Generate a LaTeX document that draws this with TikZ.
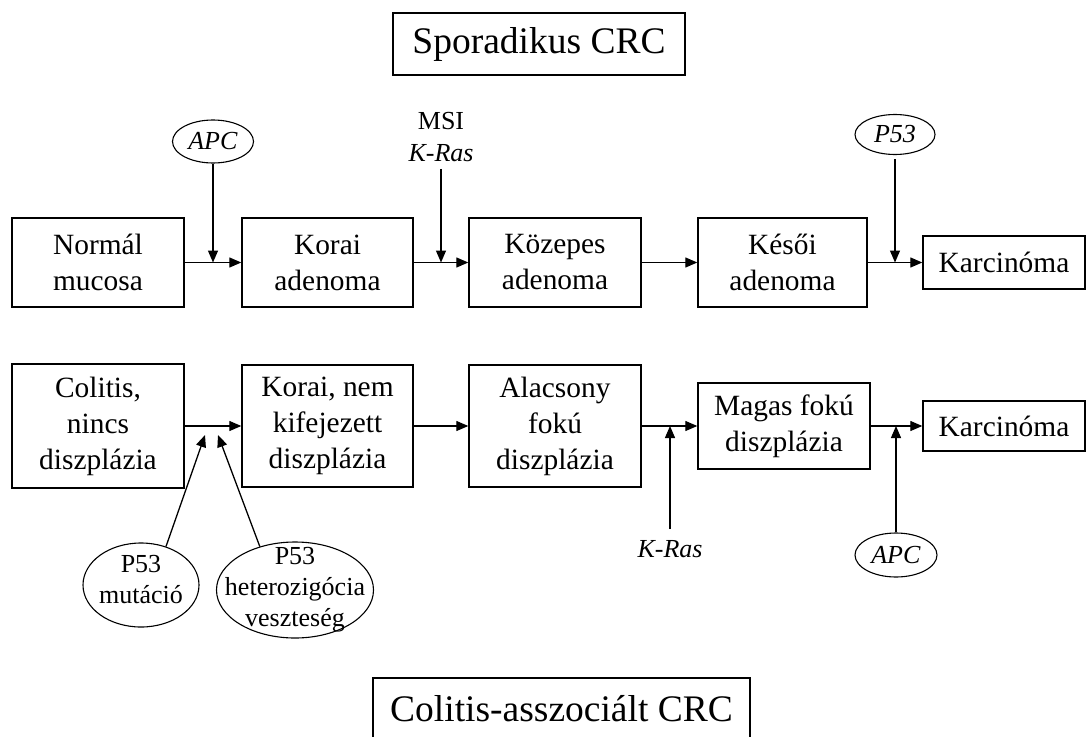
\documentclass[tikz,border=0pt]{standalone}
\usepackage{fontspec}
\setmainfont{Liberation Serif}
\usetikzlibrary{arrows.meta,shapes.geometric}
\begin{document}
\begin{tikzpicture}[x=1pt,y=-1pt,
  box/.style={draw, line width=1.4pt, inner sep=0pt, align=center, font=\fontsize{29.4}{36}\selectfont},
  titlebox/.style={draw, line width=1.4pt, inner sep=0pt, font=\fontsize{37.5}{45}\selectfont},
  oval/.style={draw, ellipse, line width=1.1pt, inner sep=0pt},
  small/.style={inner sep=0pt, align=center, font=\fontsize{26}{31}\selectfont},
  arr/.style={line width=1.3pt, -{Triangle[length=12pt,width=10pt]}}
]
\useasboundingbox (0,0) rectangle (1086,736);
\fill[white] (0,0) rectangle (1086,736);

% titles
\node[titlebox, minimum width=292pt, minimum height=62pt] (tsp) at (539,44) {Sporadikus CRC};
\node[titlebox, minimum width=377pt, minimum height=62pt] (tco) at (561.5,709) {Colitis-asszociált CRC};

% top row
\node[box, minimum width=172pt, minimum height=89pt] (n1) at (98,262.5) {Normál\\mucosa};
\node[box, minimum width=171pt, minimum height=89pt] (n2) at (327.5,262.5) {Korai\\adenoma};
\node[box, minimum width=172pt, minimum height=89pt] (n3) at (555,262.5) {Közepes\\adenoma};
\node[box, minimum width=169pt, minimum height=89pt] (n4) at (782.5,262.5) {Késői\\adenoma};
\node[box, minimum width=162pt, minimum height=53pt] (n5) at (1004,262.5) {Karcinóma};

% bottom row
\node[box, minimum width=172pt, minimum height=124pt] (b1) at (98,426) {Colitis,\\nincs\\diszplázia};
\node[box, minimum width=171pt, minimum height=122pt] (b2) at (327.5,426) {Korai, nem\\kifejezett\\diszplázia};
\node[box, minimum width=172pt, minimum height=122pt] (b3) at (555,426) {Alacsony\\fokú\\diszplázia};
\node[box, minimum width=172pt, minimum height=86pt] (b4) at (784,426) {Magas fokú\\diszplázia};
\node[box, minimum width=162pt, minimum height=50pt] (b5) at (1004,426) {Karcinóma};

% factors, top
\node[oval, minimum width=81pt, minimum height=43pt] (apc1) at (213,141.5) {};
\node[small] (apc1t) at (213,141.5) {\textit{APC}};
\node[oval, minimum width=80pt, minimum height=40pt] (p53a) at (895,134.5) {};
\node[small] (p53at) at (895,134.5) {\textit{P53}};
\node[small, font=\fontsize{26}{32}\selectfont] (msi) at (441,137) {MSI\\\textit{K-Ras}};

% factors, bottom
\node[small] (kras2) at (670,549) {\textit{K-Ras}};
\node[oval, minimum width=82pt, minimum height=44pt] (apc2) at (896,555) {};
\node[small] (apc2t) at (896,555) {\textit{APC}};
\node[oval, minimum width=116pt, minimum height=84pt] (mut) at (141,585) {};
\node[small] (mutt) at (141,580) {P53\\mutáció};
\node[oval, minimum width=157pt, minimum height=96pt] (het) at (295,590) {};
\node[small] (hett) at (295,590) {P53\\heterozigócia\\veszteség};

% meeting points
\coordinate (c1) at (213,262.5);
\coordinate (c2) at (441,262.5);
\coordinate (c3) at (895,262.5);
\coordinate (c4) at (670,426);
\coordinate (c5) at (896,426);
\coordinate (q1) at (205,435);
\coordinate (q2) at (218,435);

% main arrows
\draw[arr] (n1) -- (n2);
\draw[arr] (n2) -- (n3);
\draw[arr] (n3) -- (n4);
\draw[arr] (n4) -- (n5);
\draw[arr] (b1) -- (b2);
\draw[arr] (b2) -- (b3);
\draw[arr] (b3) -- (b4);
\draw[arr] (b4) -- (b5);

% factor arrows
\draw[arr] (apc1) -- (c1);
\draw[arr, shorten <=7pt] (msi) -- (c2);
\draw[arr, shorten <=4pt] (p53a) -- (c3);
\draw[arr, shorten <=11pt] (kras2) -- (c4);
\draw[arr] (apc2) -- (c5);
\draw[arr] (mut.57) -- (q1);
\draw[arr] (het.129) -- (q2);
\end{tikzpicture}
\end{document}
